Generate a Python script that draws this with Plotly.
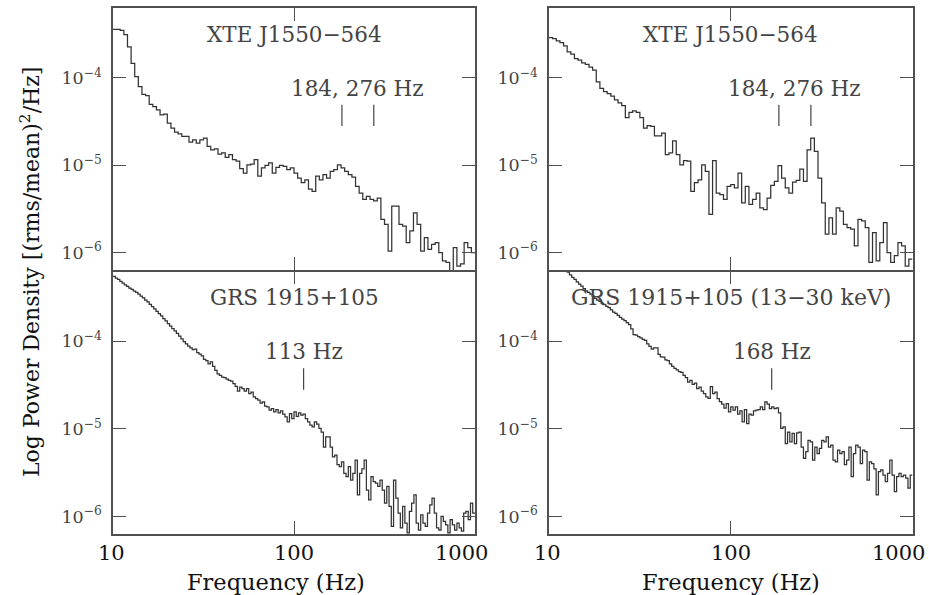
import numpy as np
import plotly.graph_objects as go

# ---------------- data (power density in units of 1e-6 (rms/mean)^2/Hz) ----------------
F_MIN, F_MAX = 10.0, 1000.0   # logarithmic frequency binning range (Hz)

tl_power = [358, 358, 349, 311, 225, 146, 103, 79, 64.6, 62.4,
            49.7, 46.8, 42.8, 37.6, 38.3, 30.2, 26.5, 23.9, 22.8, 21.3,
            21.3, 18.4, 19.5, 17.9, 19.5, 20.4, 16.4, 15.0, 15.4, 13.4,
            13.8, 12.3, 13.2, 11.6, 11.1, 9.1, 8.1, 10.1, 10.3, 11.6,
            7.5, 9.3, 9.95, 10.6, 8.1, 9.4, 9.95, 9.7, 8.9, 9.3,
            8.1, 7.1, 6.3, 6.8, 5.3, 5.0, 7.5, 6.8, 7.8, 7.1,
            8.5, 8.9, 10.1, 9.3, 8.5, 7.8, 7.3, 5.7, 4.8, 4.05,
            4.4, 4.05, 3.9, 4.2, 2.4, 2.1, 1.04, 3.4, 3.4, 2.1,
            2.0, 1.3, 1.77, 2.85, 2.1, 1.04, 1.48, 1.09, 1.24, 1.3,
            1.0, 0.80, 0.77, 0.59, 1.14, 0.70, 0.74, 1.3, 1.14, 1.0]

tr_power = [288, 280, 264, 252, 231, 198, 186, 166, 159, 148,
            142, 132, 122, 90, 75.6, 69.3, 65.8, 61.8, 55.7, 51.5,
            48.0, 35.1, 40.3, 41.7, 40.3, 35.1, 26.5, 28.4, 27.7, 21.7,
            21.7, 23.2, 13.2, 13.8, 19.0, 13.2, 10.1, 11.3, 11.1, 5.0,
            6.3, 6.8, 10.1, 8.5, 2.73, 11.3, 4.8, 4.6, 4.05, 5.7,
            6.0, 5.5, 8.1, 3.7, 5.7, 3.55, 4.05, 4.8, 3.25, 3.1,
            4.2, 5.85, 6.5, 9.9, 7.1, 5.5, 4.8, 6.4, 6.7, 9.0,
            6.5, 15.0, 20.4, 14.4, 7.1, 3.7, 1.62, 2.5, 1.62, 3.25,
            2.98, 2.1, 1.93, 1.85, 1.19, 2.4, 2.3, 1.93, 0.77, 1.69,
            0.80, 1.3, 2.2, 1.0, 0.77, 0.92, 1.3, 1.19, 0.70, 0.84]

bl_power = [548, 524, 507, 481, 460, 440, 422, 404, 390, 373,
            360, 345, 327, 313, 295, 280, 263, 248, 233, 219,
            206, 194, 181, 170, 159, 149, 139, 131, 123, 114,
            106, 99, 93, 88, 84, 80, 81, 74, 71, 68,
            62, 60, 55, 58, 51.5, 46.4, 42.5, 40.7, 39.0, 38.3,
            37.0, 35.7, 35.1, 32.7, 30.5, 27.0, 30.0, 28.7, 27.0, 28.7,
            25.2, 26.3, 23.1, 22.1, 21.2, 19.7, 20.3, 18.1, 17.8, 16.3,
            17.0, 15.6, 16.6, 15.2, 16.0, 14.7, 13.7, 12.0, 14.9, 13.1,
            15.6, 13.9, 15.2, 14.3, 14.7, 13.1, 12.0, 11.0, 10.5, 12.0,
            11.3, 10.1, 9.2, 6.2, 8.1, 8.1, 6.2, 4.8, 5.0, 3.9,
            3.7, 4.2, 3.1, 2.85, 3.7, 2.6, 3.1, 4.4, 1.76, 3.1,
            3.5, 4.4, 2.0, 1.55, 2.85, 2.5, 2.4, 2.2, 2.6, 2.0,
            1.42, 2.2, 1.3, 0.77, 2.6, 1.62, 1.09, 0.74, 1.3, 0.84,
            0.65, 1.14, 1.42, 1.76, 0.84, 0.70, 1.04, 0.84, 0.77, 1.09,
            1.36, 1.62, 1.09, 0.74, 0.70, 1.0, 0.88, 0.80, 0.65, 0.92,
            0.80, 0.70, 0.84, 0.74, 0.68, 1.09, 1.14, 0.92, 1.42, 1.09]

br_power = [983, 925, 869, 826, 770, 724, 681, 647, 614, 572,
            534, 507, 476, 448, 425, 397, 376, 360, 345, 327,
            308, 295, 285, 270, 261, 250, 241, 227, 214, 208,
            197, 187, 178, 172, 163, 155, 138, 119, 117, 113,
            109, 105, 102, 93, 87, 81, 84, 84, 70.5, 66.4,
            65.8, 61.3, 60, 55, 51.5, 48.9, 47.2, 44.8, 44.0, 40.7,
            38.3, 34.2, 35.7, 32.2, 33.3, 28.7, 30.0, 27.0, 25.2, 23.1,
            22.3, 30.3, 25.2, 26.3, 22.1, 20.5, 19.1, 17.2, 19.4, 15.6,
            17.8, 16.3, 17.8, 14.7, 16.0, 12.0, 16.6, 11.5, 14.7, 14.3,
            16.0, 16.3, 16.6, 17.8, 16.6, 20.3, 19.1, 17.0, 17.8, 17.0,
            17.3, 15.2, 10.1, 10.5, 6.8, 9.2, 7.1, 8.85, 6.8, 9.0,
            9.2, 6.2, 4.6, 5.5, 7.4, 7.1, 4.4, 6.2, 5.2, 6.0,
            7.4, 7.1, 8.1, 6.2, 6.5, 4.4, 4.2, 5.7, 5.2, 5.5,
            3.9, 4.4, 6.2, 2.85, 5.2, 6.5, 6.2, 4.0, 5.7, 5.5,
            2.6, 4.2, 4.0, 3.5, 1.76, 3.25, 3.4, 2.97, 2.5, 3.1,
            4.4, 2.97, 1.92, 2.85, 3.1, 2.85, 2.97, 2.73, 2.1, 2.97]

source_labels = ["XTE J1550\u2212564", "XTE J1550\u2212564",
                 "GRS 1915+105", "GRS 1915+105 (13\u221230 keV)"]
qpo_freqs = [[184, 276], [184, 276], [113], [168]]
qpo_labels = ["184, 276 Hz", "184, 276 Hz", "113 Hz", "168 Hz"]

x_tick_vals = [10, 100, 1000]
x_tick_text = ["10", "100", "1000"]
x_minor_vals = [20, 30, 40, 50, 60, 70, 80, 90, 200, 300, 400, 500, 600, 700, 800, 900]
y_tick_vals = [1e-6, 1e-5, 1e-4]
y_tick_text = ["10<sup>\u22126</sup>", "10<sup>\u22125</sup>", "10<sup>\u22124</sup>"]
y_minor_vals = [7e-7, 8e-7, 9e-7, 2e-6, 3e-6, 4e-6, 5e-6, 6e-6, 7e-6, 8e-6, 9e-6,
                2e-5, 3e-5, 4e-5, 5e-5, 6e-5, 7e-5, 8e-5, 9e-5, 2e-4, 3e-4, 4e-4, 5e-4, 6e-4]

# ---------------- layout geometry / style ----------------
W, H = 929, 595
FONT = "DejaVu Serif"
LINE_COL = "#333333"
FRAME_COL = "#505050"
TEXT_COL = "#444444"

x_doms = [(113 / W, 475 / W), (549 / W, 912.5 / W)]
# axis lines are drawn just outside each domain; offset so the shared edge is one line
y_doms = [(1 - 270.0 / H, 1 - 8.3 / H), (1 - 534 / H, 1 - 271.5 / H)]
Y_RANGE = [-6.2, -3.205]
LABEL_Y = 7.6e-5
MARK_Y = (2.8e-5, 4.9e-5)
XTICK_LABEL_Y = 1 - 553 / H
XTICK_SHIFT = {10: -2, 100: 0, 1000: -14}

panels = [tl_power, tr_power, bl_power, br_power]


def ax_id(k):
    return ("x", "y") if k == 0 else (f"x{k + 1}", f"y{k + 1}")


fig = go.Figure()

for k, vals in enumerate(panels):
    n = len(vals)
    edges = np.logspace(np.log10(F_MIN), np.log10(F_MAX), n + 1)
    yv = np.array(list(vals) + [vals[-1]]) * 1e-6
    xa, ya = ax_id(k)
    fig.add_trace(go.Scatter(x=edges, y=yv, mode="lines",
                             line=dict(shape="hv", color=LINE_COL, width=1.25),
                             xaxis=xa, yaxis=ya, showlegend=False, hoverinfo="skip"))
    for f in qpo_freqs[k]:
        fig.add_trace(go.Scatter(x=[f, f], y=list(MARK_Y), mode="lines",
                                 line=dict(color=TEXT_COL, width=1.2),
                                 xaxis=xa, yaxis=ya, showlegend=False, hoverinfo="skip"))
    fc = float(np.exp(np.mean(np.log(qpo_freqs[k]))))
    fig.add_annotation(x=np.log10(fc), y=np.log10(LABEL_Y), xref=xa, yref=ya,
                       text=qpo_labels[k], showarrow=False,
                       font=dict(family=FONT, size=21.5, color=TEXT_COL),
                       xanchor="center", yanchor="middle")
    fig.add_annotation(x=0.5, y=0.9, xref=f"{xa} domain", yref=f"{ya} domain",
                       text=source_labels[k], showarrow=False,
                       font=dict(family=FONT, size=22 if k == 3 else 21.5, color=TEXT_COL),
                       xanchor="center", yanchor="middle")
    # frequency tick labels under the bottom panels
    if k >= 2:
        for tv, tt in zip(x_tick_vals, x_tick_text):
            fig.add_annotation(x=np.log10(tv), y=XTICK_LABEL_Y, xref=xa, yref="paper",
                               text=tt, showarrow=False, xshift=XTICK_SHIFT[tv],
                               font=dict(family=FONT, size=21, color="#111111"),
                               xanchor="center", yanchor="middle")

axis_common = dict(showline=True, linecolor=FRAME_COL, linewidth=1.5, mirror="ticks",
                   ticks="inside", tickcolor=FRAME_COL, tickwidth=1.4,
                   showgrid=False, zeroline=False, type="log", automargin=False)

layout = dict(width=W, height=H, autosize=False, margin=dict(l=0, r=0, t=0, b=0, pad=0),
              paper_bgcolor="white", plot_bgcolor="white", showlegend=False)

for k in range(4):
    col, row = k % 2, k // 2
    xa, ya = ax_id(k)
    xname = "xaxis" if k == 0 else f"xaxis{k + 1}"
    yname = "yaxis" if k == 0 else f"yaxis{k + 1}"
    layout[xname] = dict(axis_common, domain=list(x_doms[col]), anchor=ya,
                         range=[np.log10(F_MIN), np.log10(F_MAX)],
                         tickmode="array", tickvals=x_tick_vals, ticktext=x_tick_text,
                         ticklen=13, showticklabels=False)
    layout[yname] = dict(axis_common, domain=list(y_doms[row]), anchor=xa,
                         range=Y_RANGE,
                         tickmode="array", tickvals=y_tick_vals, ticktext=y_tick_text,
                         ticklen=13, ticklabelstandoff=6,
                         tickfont=dict(family=FONT, size=17.5, color=TEXT_COL))
    # minor-tick axes overlaying the main ones
    layout[f"xaxis{k + 5}"] = dict(axis_common, domain=list(x_doms[col]), anchor=ya,
                                   overlaying=xa,
                                   range=[np.log10(F_MIN), np.log10(F_MAX)],
                                   tickmode="array", tickvals=x_minor_vals, ticklen=7,
                                   showticklabels=False)
    layout[f"yaxis{k + 5}"] = dict(axis_common, domain=list(y_doms[row]), anchor=xa,
                                   overlaying=ya, range=Y_RANGE,
                                   tickmode="array", tickvals=y_minor_vals, ticklen=7,
                                   showticklabels=False)

fig.update_layout(**layout)

# axis titles
for xc in (276, 731):
    fig.add_annotation(x=xc / W, y=1 - 582 / H, xref="paper", yref="paper",
                       text="Frequency (Hz)", showarrow=False,
                       font=dict(family=FONT, size=22.5, color="#111111"),
                       xanchor="center", yanchor="middle")
fig.add_annotation(x=30 / W, y=1 - 272 / H, xref="paper", yref="paper",
                   text="Log Power Density [(rms/mean)<sup>2</sup>/Hz]", showarrow=False,
                   textangle=-90,
                   font=dict(family=FONT, size=22, color="#111111"),
                   xanchor="center", yanchor="middle")

fig.write_html("out.html")
